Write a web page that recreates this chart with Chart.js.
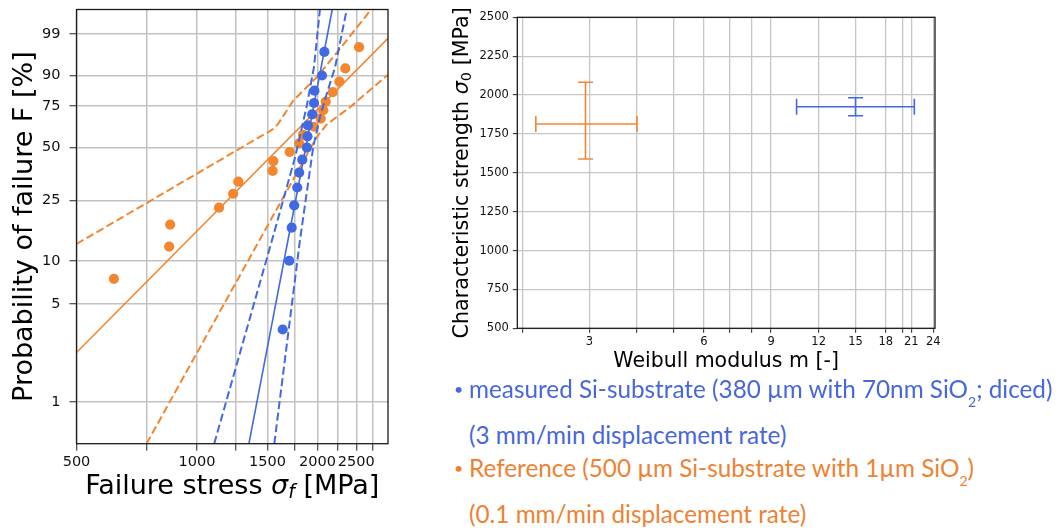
<!DOCTYPE html>
<html>
<head>
<meta charset="utf-8">
<script src="https://cdn.jsdelivr.net/npm/chart.js@4.4.1/dist/chart.umd.min.js"></script>
<style>
  html, body { margin: 0; padding: 0; background: #fff; }
  body { width: 1062px; height: 530px; position: relative; overflow: hidden; }
  #weibull-plot { position: absolute; left: 0; top: 0; }
  #modulus-plot { position: absolute; left: 440px; top: 0; }
  .note { position: absolute; font-family: Lato, "Open Sans", sans-serif; font-size: 24.3px; line-height: 30px; white-space: nowrap; }
  .note sub { font-size: 14px; position: relative; top: 9px; vertical-align: baseline; }
  .blue { color: #4767DA; }
  .orange { color: #EE8233; }
  .dot { position: absolute; left: -15px; font-size: 16px; }
</style>
</head>
<body>
<canvas id="weibull-plot" width="400" height="530"></canvas>
<canvas id="modulus-plot" width="505" height="380"></canvas>

<div class="note blue" style="left:469px; top:374px;"><span class="dot">•</span>measured Si-substrate (380 µm with 70nm SiO<sub>2</sub>; diced)</div>
<div class="note blue" style="left:469px; top:420px;">(3 mm/min displacement rate)</div>
<div class="note orange" style="left:469px; top:453px;"><span class="dot">•</span>Reference (500 µm Si-substrate with 1µm SiO<sub>2</sub>)</div>
<div class="note orange" style="left:469px; top:499px;">(0.1 mm/min displacement rate)</div>

<script>
const BLUE = '#4169E1';
const ORANGE = '#F4862F';

// ---- Weibull plot: failure stress [MPa] vs probability of failure [%] ----
const measuredStress = [1637, 1700, 1724, 1749, 1780, 1800, 1832, 1882, 1888, 1893, 1940, 1960, 1965, 2052, 2080];
const measuredProb   = [3.3, 10.0, 16.7, 23.3, 30.0, 36.7, 43.3, 50.0, 56.7, 63.3, 70.0, 76.7, 83.3, 90.0, 96.7];

const refStress = [620, 852, 857, 1135, 1231, 1268, 1545, 1551, 1704, 1800, 1840, 1959, 2037, 2068, 2097, 2183, 2268, 2347, 2540];
const refProb   = [7.5, 12.5, 17.5, 22.5, 27.5, 32.5, 37.5, 42.5, 47.5, 52.5, 57.5, 62.5, 67.5, 72.5, 77.5, 82.5, 87.5, 92.5, 97.5];

// fitted lines and confidence bounds
const measuredFitStress = [1348, 2177];
const measuredFitProb   = [0.5, 99.9];
const measuredUpStress  = [1104, 1565, 1760, 1880, 1960, 2028];
const measuredUpProb    = [0.5, 16.1, 45, 75, 93, 99.9];
const measuredLoStress  = [1560, 1808, 1952, 2028, 2109, 2212, 2366];
const measuredLoProb    = [0.5, 13.8, 50.5, 68.4, 81.7, 92.8, 99.9];

const refFitStress = [500, 3000];
const refFitProb   = [2.26, 98.6];
const refUpStress  = [500, 1550, 1596, 1740, 1991, 2366, 2721];
const refUpProb    = [13.0, 61.1, 64.4, 78.1, 89.3, 98.4, 99.9];
const refLoStress  = [748, 1991, 2109, 2411, 3000];
const refLoProb    = [0.5, 56.2, 63.9, 74.3, 90.3];

const stressGrid   = [500, 750, 1000, 1250, 1500, 1750, 2000, 2250, 2500, 2750];
const stressLabels = [500, 1000, 1500, 2000, 2500];
const probTicks    = [1, 5, 10, 25, 50, 75, 90, 99];

// ---- Weibull modulus vs characteristic strength ----
const modulusM      = [15.0, 2.93];
const modulusLow    = [10.5, 2.17];
const modulusHigh   = [21.4, 4.0];
const strength0     = [1925, 1814];
const strengthLow   = [1867, 1589];
const strengthHigh  = [1983, 2082];
const modulusColors = [BLUE, ORANGE];

const modulusGrid   = [2, 3, 4, 5, 6, 7, 8, 9, 12, 15, 18, 20, 21, 24];
const modulusLabels = [3, 6, 9, 12, 15, 18, 21, 24];
const strengthTicks = [500, 750, 1000, 1250, 1500, 1750, 2000, 2250, 2500];

const weib = p => Math.log(-Math.log(1 - p / 100));
const toPoints = (xs, ps) => xs.map((x, i) => ({ x: x, y: weib(ps[i]) }));

function curve(xs, ps, color, dashed) {
  return {
    data: toPoints(xs, ps),
    showLine: true,
    borderColor: color,
    borderWidth: dashed ? 2 : 1.6,
    borderDash: dashed ? [8, 3.6] : [],
    pointRadius: 0,
    fill: false
  };
}
function dots(xs, ps, color) {
  return {
    data: toPoints(xs, ps),
    showLine: false,
    pointRadius: 5.1,
    pointBackgroundColor: color,
    pointBorderWidth: 0
  };
}

// black box around the plot area
const framePlugin = {
  id: 'frame',
  afterDatasetsDraw(chart) {
    const a = chart.chartArea, ctx = chart.ctx;
    ctx.save();
    ctx.strokeStyle = '#1a1a1a';
    ctx.lineWidth = 1.3;
    ctx.strokeRect(a.left, a.top, a.right - a.left, a.bottom - a.top);
    ctx.restore();
  }
};

// axis titles with italic greek letters and subscripts
const richTitlePlugin = {
  id: 'richTitle',
  afterDraw(chart, args, opts) {
    const ctx = chart.ctx, a = chart.chartArea;
    (opts.items || []).forEach(item => {
      const size = item.size;
      const parts = item.parts.map(p => {
        const s = p.sub ? size * 0.7 : size;
        const font = (p.italic ? 'italic ' : '') + s + 'px "DejaVu Sans"';
        ctx.font = font;
        return { text: p.text, font: font, w: ctx.measureText(p.text).width, dy: p.sub ? size * 0.22 : 0 };
      });
      const total = parts.reduce((s, p) => s + p.w, 0);
      ctx.save();
      if (item.vertical) {
        ctx.translate(item.pos, (a.top + a.bottom) / 2);
        ctx.rotate(-Math.PI / 2);
      } else {
        ctx.translate((a.left + a.right) / 2, item.pos);
      }
      ctx.fillStyle = '#000';
      ctx.textBaseline = 'middle';
      let x = -total / 2;
      parts.forEach(p => {
        ctx.font = p.font;
        ctx.fillText(p.text, x, p.dy);
        x += p.w;
      });
      ctx.restore();
    });
  }
};

const weibullCtx = document.getElementById('weibull-plot').getContext('2d');
new Chart(weibullCtx, {
  type: 'scatter',
  data: {
    datasets: [
      curve(measuredUpStress, measuredUpProb, BLUE, true),
      curve(measuredLoStress, measuredLoProb, BLUE, true),
      curve(measuredFitStress, measuredFitProb, BLUE, false),
      dots(measuredStress, measuredProb, BLUE),
      curve(refUpStress, refUpProb, ORANGE, true),
      curve(refLoStress, refLoProb, ORANGE, true),
      curve(refFitStress, refFitProb, ORANGE, false),
      dots(refStress, refProb, ORANGE)
    ]
  },
  options: {
    responsive: false,
    animation: false,
    layout: { padding: { left: 0, right: 12, top: 9.5, bottom: 0 } },
    plugins: {
      legend: { display: false },
      tooltip: { enabled: false },
      richTitle: {
        items: [
          { vertical: false, pos: 487, size: 27, parts: [
            { text: 'Failure stress ' }, { text: 'σ', italic: true }, { text: 'f', italic: true, sub: true }, { text: ' [MPa]' }] },
          { vertical: true, pos: 25, size: 27, parts: [{ text: 'Probability of failure F [%]' }] }
        ]
      }
    },
    scales: {
      x: {
        type: 'logarithmic',
        min: 500,
        max: 3000,
        afterBuildTicks: axis => { axis.ticks = stressGrid.map(v => ({ value: v })); },
        afterFit: scale => { scale.height = 86.3; scale.paddingLeft = 0; scale.paddingRight = 0; },
        border: { display: false },
        grid: { color: '#c2c2c2', lineWidth: 1.5, tickLength: 7, tickColor: '#222', tickWidth: 1 },
        ticks: {
          autoSkip: false, maxRotation: 0, padding: 3,
          color: '#111', font: { family: 'DejaVu Sans', size: 14.5 },
          callback: v => stressLabels.includes(v) ? String(v) : ''
        }
      },
      y: {
        type: 'linear',
        min: weib(0.5),
        max: weib(99.9),
        afterBuildTicks: axis => { axis.ticks = probTicks.map(p => ({ value: weib(p) })); },
        afterFit: scale => { scale.width = 76.5; scale.paddingTop = 0; scale.paddingBottom = 0; },
        border: { display: false },
        grid: { color: '#c2c2c2', lineWidth: 1.5, tickLength: 7, tickColor: '#222', tickWidth: 1 },
        ticks: {
          padding: 9,
          color: '#111', font: { family: 'DejaVu Sans', size: 14.5 },
          callback: (v, i) => String(probTicks[i])
        }
      }
    }
  },
  plugins: [framePlugin, richTitlePlugin]
});

// error bars: one line for the modulus range, one for the strength range, caps drawn as line points
const errorSets = [];
modulusM.forEach((m, i) => {
  const c = modulusColors[i];
  errorSets.push({
    data: [{ x: modulusLow[i], y: strength0[i] }, { x: modulusHigh[i], y: strength0[i] }],
    showLine: true, borderColor: c, borderWidth: 1.6,
    pointStyle: 'line', pointRotation: 90, pointRadius: 8, pointBorderColor: c, pointBorderWidth: 1.6
  });
  errorSets.push({
    data: [{ x: m, y: strengthLow[i] }, { x: m, y: strengthHigh[i] }],
    showLine: true, borderColor: c, borderWidth: 1.6,
    pointStyle: 'line', pointRotation: 0, pointRadius: 7.5, pointBorderColor: c, pointBorderWidth: 1.6
  });
});

const modulusCtx = document.getElementById('modulus-plot').getContext('2d');
new Chart(modulusCtx, {
  type: 'scatter',
  data: { datasets: errorSets },
  options: {
    responsive: false,
    animation: false,
    layout: { padding: { left: 0, right: 10, top: 17.3, bottom: 0 } },
    plugins: {
      legend: { display: false },
      tooltip: { enabled: false },
      richTitle: {
        items: [
          { vertical: false, pos: 361.5, size: 20.5, parts: [{ text: 'Weibull modulus m [-]' }] },
          { vertical: true, pos: 23, size: 20.7, parts: [
            { text: 'Characteristic strength ' }, { text: 'σ', italic: true }, { text: '0', sub: true }, { text: ' [MPa]' }] }
        ]
      }
    },
    scales: {
      x: {
        type: 'logarithmic',
        min: 1.94,
        max: 24.25,
        afterBuildTicks: axis => { axis.ticks = modulusGrid.map(v => ({ value: v })); },
        afterFit: scale => { scale.height = 51.7; scale.paddingLeft = 0; scale.paddingRight = 0; },
        border: { display: false },
        grid: { color: '#c6c6c6', lineWidth: 1.3, tickLength: 4.5, tickColor: '#222', tickWidth: 1 },
        ticks: {
          autoSkip: false, maxRotation: 0, padding: 2,
          color: '#111', font: { family: 'DejaVu Sans', size: 11.5 },
          callback: v => modulusLabels.includes(v) ? String(v) : ''
        }
      },
      y: {
        type: 'linear',
        min: 500,
        max: 2500,
        afterBuildTicks: axis => { axis.ticks = strengthTicks.map(v => ({ value: v })); },
        afterFit: scale => { scale.width = 77.3; scale.paddingTop = 0; scale.paddingBottom = 0; },
        border: { display: false },
        grid: { color: '#c6c6c6', lineWidth: 1.3, tickLength: 4.5, tickColor: '#222', tickWidth: 1 },
        ticks: {
          padding: 4,
          color: '#111', font: { family: 'DejaVu Sans', size: 11.5 },
          callback: v => String(v)
        }
      }
    }
  },
  plugins: [framePlugin, richTitlePlugin]
});
</script>
</body>
</html>
